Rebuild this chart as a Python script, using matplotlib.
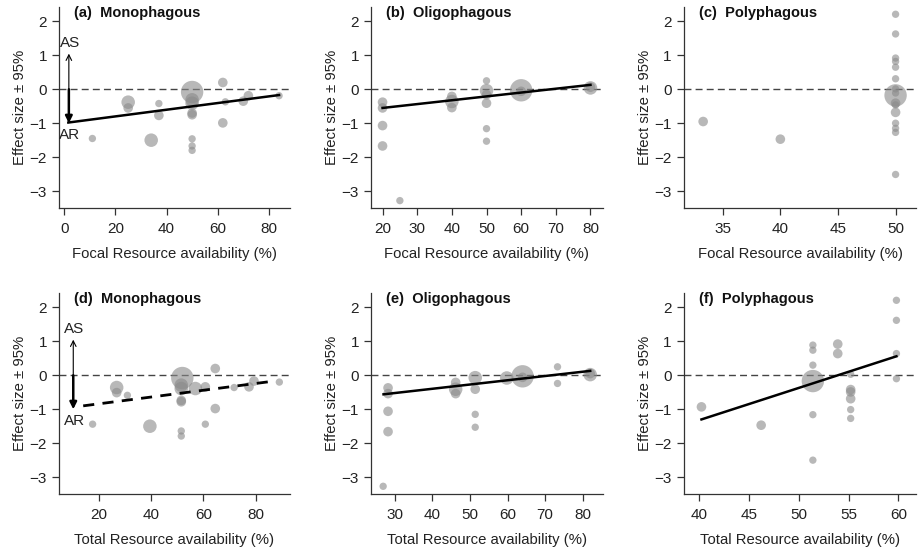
"""
Kaynak erisilebilirligine gore etki buyuklugu (6 panel)
Bubble scatter + regresyon cizgisi.
"""

import numpy as np
import matplotlib

matplotlib.use("Agg")
import matplotlib.pyplot as plt

plt.rcParams["font.family"] = ["Liberation Sans", "DejaVu Sans"]

# --- veri -----------------------------------------------------------------
# agirlik: 1 kucuk, 2 orta, 3 buyuk, 4 cok buyuk
a_x = [11, 25, 25, 34, 37, 37, 50, 50, 50, 50, 50, 50, 50, 50, 62, 63, 62, 70, 72, 84]
a_y = [-1.45, -0.38, -0.55, -1.5, -0.42, -0.77, -0.08, -0.31, -0.41, -0.7, -0.75,
       -1.46, -1.67, -1.8, 0.2, -0.37, -0.99, -0.35, -0.19, -0.19]
a_w = [1, 3, 2, 3, 1, 2, 4, 3, 3, 2, 2, 1, 1, 1, 2, 1, 2, 2, 2, 1]
a_fit = ([1.6, 84], [-0.98, -0.17])

b_x = [20, 20, 20, 20, 25, 40, 40, 40, 50, 50, 50, 50, 50, 50, 60, 60, 80, 80]
b_y = [-0.38, -0.55, -1.07, -1.67, -3.28, -0.21, -0.36, -0.54, 0.25, -0.04, -0.16,
       -0.41, -1.16, -1.53, -0.03, -0.06, 0.04, 0.06]
b_w = [2, 2, 2, 2, 1, 2, 3, 2, 1, 3, 2, 2, 1, 1, 4, 2, 3, 2]
b_fit = ([20, 80], [-0.55, 0.13])

c_x = [33.3, 40, 50, 50, 50, 50, 50, 50, 50, 50, 50, 50, 50, 50, 50, 50, 50, 50]
c_y = [-0.95, -1.47, 2.21, 1.63, 0.92, 0.82, 0.65, 0.31, 0.01, -0.11, -0.18, -0.41,
       -0.46, -0.68, -1.0, -1.15, -1.27, -2.51]
c_w = [2, 2, 1, 1, 1, 1, 1, 1, 1, 1, 4, 2, 1, 2, 1, 1, 1, 1]

d_x = [17.6, 26.8, 26.8, 30.9, 39.5, 51.9, 51.5, 51.5, 51.5, 51.5, 51.5, 51.5, 56.9,
       60.7, 60.7, 64.5, 64.5, 71.7, 77.4, 79.3, 89]
d_y = [-1.44, -0.36, -0.51, -0.59, -1.5, -0.08, -0.29, -0.39, -0.74, -0.78, -1.64,
       -1.79, -0.39, -0.34, -1.44, 0.2, -0.98, -0.36, -0.34, -0.17, -0.2]
d_w = [1, 3, 2, 1, 3, 4, 3, 3, 2, 2, 1, 1, 3, 2, 1, 2, 2, 1, 2, 2, 1]
d_fit = ([14, 86], [-0.9, -0.18])

e_x = [26.9, 28.2, 28.2, 28.2, 28.2, 46.2, 46.2, 46.2, 51.4, 51.4, 51.4, 51.4, 59.8,
       64, 64, 73.3, 73.3, 82, 82]
e_y = [-3.27, -0.37, -0.54, -1.06, -1.66, -0.21, -0.41, -0.54, -0.07, -0.41, -1.15,
       -1.53, -0.08, -0.03, -0.06, 0.25, -0.24, 0.02, 0.05]
e_w = [1, 2, 2, 2, 2, 2, 3, 2, 3, 2, 1, 1, 3, 4, 2, 1, 1, 3, 2]
e_fit = ([27, 82], [-0.56, 0.13])

f_x = [40.2, 46.2, 51.4, 51.4, 51.4, 51.4, 51.4, 51.4, 53.9, 53.9, 55.2, 55.2, 55.2,
       55.2, 55.2, 55.2, 59.8, 59.8, 59.8, 59.8]
f_y = [-0.93, -1.47, 0.89, 0.74, 0.3, -0.17, -1.16, -2.5, 0.92, 0.64, 0.03, -0.42,
       -0.49, -0.69, -1.01, -1.27, 2.21, 1.62, 0.64, -0.1]
f_w = [2, 2, 1, 1, 1, 4, 1, 1, 2, 2, 1, 2, 2, 2, 1, 1, 1, 1, 1, 1]
f_fit = ([40.2, 59.8], [-1.3, 0.56])

PANELS = [
    ("(a)", "Monophagous", "Focal", a_x, a_y, a_w, a_fit, "-", (-2.1, 88.2), [0, 20, 40, 60, 80], 1.8),
    ("(b)", "Oligophagous", "Focal", b_x, b_y, b_w, b_fit, "-", (16.6, 83.5), [20, 30, 40, 50, 60, 70, 80], None),
    ("(c)", "Polyphagous", "Focal", c_x, c_y, c_w, None, "-", (31.6, 51.8), [35, 40, 45, 50], None),
    ("(d)", "Monophagous", "Total", d_x, d_y, d_w, d_fit, "--", (4.7, 93.0), [20, 40, 60, 80], 10.2),
    ("(e)", "Oligophagous", "Total", e_x, e_y, e_w, e_fit, "-", (23.6, 85.3), [30, 40, 50, 60, 70, 80], None),
    ("(f)", "Polyphagous", "Total", f_x, f_y, f_w, f_fit, "-", (38.4, 61.8), [40, 45, 50, 55, 60], None),
]

SIZE_MAP = {1: 28, 2: 48, 3: 95, 4: 260}

COL_LEFT = [0.064, 0.403, 0.743]
COL_W = [0.251, 0.252, 0.253]
ROW_BOTTOM = [0.621, 0.100]
ROW_H = 0.366


def draw_panel(ax, panel):
    tag, name, kind, xs, ys, ws, fit, ls, xlim, xticks, arrow_x = panel
    sizes = [SIZE_MAP[w] for w in ws]
    ax.axhline(0, color="#444444", lw=1.0, ls=(0, (5, 3)), zorder=1)
    ax.scatter(xs, ys, s=sizes, color="#8a8a8a", alpha=0.6, edgecolors="none", zorder=2)
    if fit is not None:
        if ls == "--":
            ax.plot(fit[0], fit[1], color="black", lw=2.0, ls=(0, (4, 3)), zorder=3)
        else:
            ax.plot(fit[0], fit[1], color="black", lw=1.8, zorder=3)

    if arrow_x is not None:
        ax.annotate("", xy=(arrow_x, 1.05), xytext=(arrow_x, -0.95),
                    arrowprops=dict(arrowstyle="->", lw=0.8, color="black",
                                    shrinkA=0, shrinkB=0, mutation_scale=10))
        ax.annotate("", xy=(arrow_x, -1.0), xytext=(arrow_x, 0),
                    arrowprops=dict(arrowstyle="-|>", lw=1.8, color="black",
                                    shrinkA=0, shrinkB=0, mutation_scale=10))
        ax.text(arrow_x + 0.3, 1.37, "AS", ha="center", va="center", fontsize=11, color="#222222")
        ax.text(arrow_x + 0.3, -1.35, "AR", ha="center", va="center", fontsize=11, color="#222222")

    ax.set_xlim(*xlim)
    ax.set_ylim(-3.5, 2.42)
    ax.set_xticks(xticks)
    ax.set_yticks([-3, -2, -1, 0, 1, 2])
    for side in ("top", "right"):
        ax.spines[side].set_visible(False)
    for side in ("left", "bottom"):
        ax.spines[side].set_color("#333333")
        ax.spines[side].set_linewidth(0.9)
    ax.tick_params(direction="out", length=5, width=0.9, color="#333333",
                   labelsize=11, labelcolor="#222222")
    ax.tick_params(axis="x", pad=5)
    ax.set_xlabel(f"{kind} Resource availability (%)", fontsize=10.7, color="#222222", labelpad=8)
    ax.set_ylabel("Effect size ± 95%", fontsize=10.7, color="#222222", labelpad=2)
    ax.text(0.065, 0.97, f"{tag}  {name}", transform=ax.transAxes, ha="left", va="center",
            fontsize=10.5, fontweight="bold", color="#111111")


def main() -> None:
    fig = plt.figure(figsize=(9.2, 5.49), dpi=100)
    for i, panel in enumerate(PANELS):
        r, c = divmod(i, 3)
        ax = fig.add_axes([COL_LEFT[c], ROW_BOTTOM[r], COL_W[c], ROW_H])
        draw_panel(ax, panel)
    fig.savefig("out.png", dpi=100)
    plt.close(fig)


if __name__ == "__main__":
    main()
